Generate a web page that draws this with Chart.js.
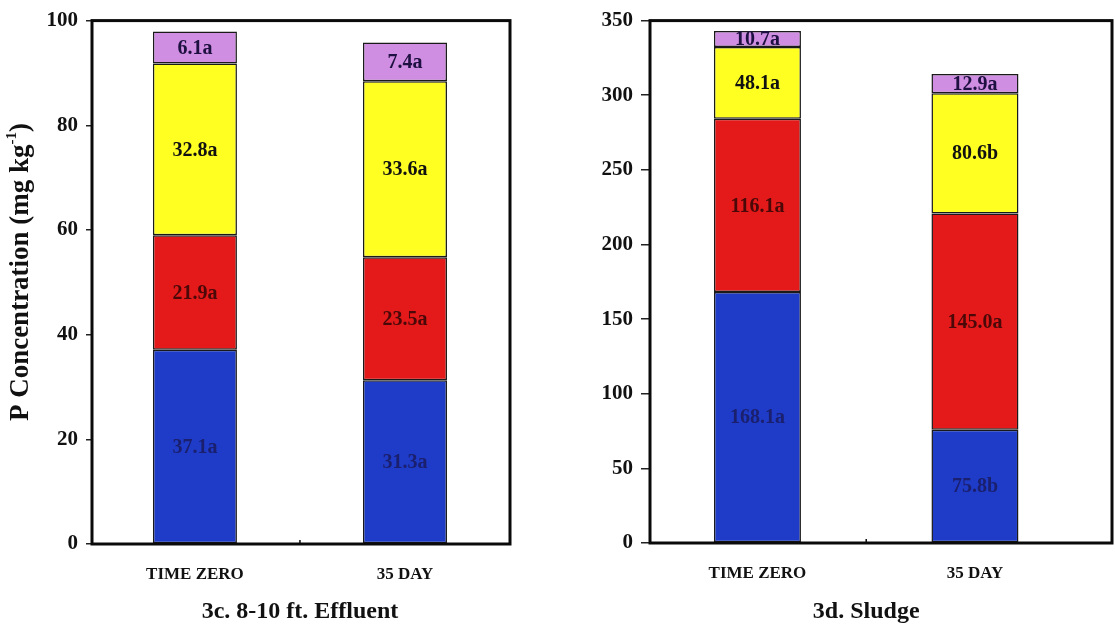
<!DOCTYPE html>
<html>
<head>
<meta charset="utf-8">
<title>P Concentration – Effluent and Sludge</title>
<script src="https://cdn.jsdelivr.net/npm/chart.js@4"></script>
<style>
  html, body { margin: 0; padding: 0; background: #ffffff; }
  #wrap { position: relative; width: 1115px; height: 626px; overflow: hidden; }
  canvas { position: absolute; top: 0; }
  #effluent { left: 0; }
  #sludge { left: 560px; }
</style>
</head>
<body>
<div id="wrap">
  <canvas id="effluent" width="560" height="626"></canvas>
  <canvas id="sludge" width="555" height="626"></canvas>
</div>
<script>
// Sampling times (x categories)
const categories = ['TIME ZERO', '35 DAY'];

// 3c. 8-10 ft. Effluent – P fractions (mg kg-1), bottom to top
const effluentPool1 = [37.1, 31.3];
const effluentPool2 = [21.9, 23.5];
const effluentPool3 = [32.8, 33.6];
const effluentPool4 = [6.1, 7.4];
const effluentLetters1 = ['a', 'a'];
const effluentLetters2 = ['a', 'a'];
const effluentLetters3 = ['a', 'a'];
const effluentLetters4 = ['a', 'a'];
const effluentTicks = [0, 20, 40, 60, 80, 100];

// 3d. Sludge – P fractions (mg kg-1), bottom to top
const sludgePool1 = [168.1, 75.8];
const sludgePool2 = [116.1, 145.0];
const sludgePool3 = [48.1, 80.6];
const sludgePool4 = [10.7, 12.9];
const sludgeLetters1 = ['a', 'b'];
const sludgeLetters2 = ['a', 'a'];
const sludgeLetters3 = ['a', 'b'];
const sludgeLetters4 = ['a', 'a'];
const sludgeTicks = [0, 50, 100, 150, 200, 250, 300, 350];

const SERIF = "'Liberation Serif', 'Times New Roman', 'DejaVu Serif', serif";
const fills = ['#1f3cc8', '#e41a1a', '#ffff22', '#cf8ee2'];
const labelInk = ['#1a1f6e', '#4a0808', '#111111', '#1e1040'];

function makeDatasets(pools, letters) {
  return pools.map((vals, k) => ({
    label: 'Pool ' + (k + 1),
    data: vals.map((v, i) => ({ x: i, y: v })),
    letters: letters[k],
    backgroundColor: fills[k],
    borderColor: '#1a1a1a',
    borderWidth: 1.5,
    borderSkipped: false,
    barPercentage: 0.4,
    categoryPercentage: 1.0,
    labelColor: labelInk[k]
  }));
}

// Segment value labels, plot frame, panel caption, axis title
const panelDecor = {
  id: 'panelDecor',
  afterDatasetsDraw(chart) {
    const ctx = chart.ctx;
    ctx.save();
    ctx.font = 'bold 20px ' + SERIF;
    ctx.textAlign = 'center';
    ctx.textBaseline = 'middle';
    chart.data.datasets.forEach((ds, di) => {
      const meta = chart.getDatasetMeta(di);
      meta.data.forEach((el, i) => {
        const v = ds.data[i].y;
        ctx.fillStyle = ds.labelColor;
        ctx.fillText(v.toFixed(1) + ds.letters[i], el.x, (el.y + el.base) / 2 + 1);
      });
    });
    ctx.restore();
  },
  afterDraw(chart, args, opts) {
    const ctx = chart.ctx;
    const a = chart.chartArea;
    const xs = chart.scales.x;
    ctx.save();
    // frame around the plot area
    ctx.strokeStyle = '#0a0a0a';
    ctx.lineWidth = 3;
    ctx.strokeRect(a.left, a.top, a.right - a.left, a.bottom - a.top);
    // divider tick between the two sampling times
    const mid = xs.getPixelForValue(0.5);
    ctx.lineWidth = 1.5;
    ctx.beginPath();
    ctx.moveTo(mid, a.bottom);
    ctx.lineTo(mid, a.bottom - 4);
    ctx.stroke();
    // panel caption
    ctx.fillStyle = '#111';
    ctx.font = 'bold 24px ' + SERIF;
    ctx.textAlign = 'center';
    ctx.textBaseline = 'middle';
    ctx.fillText(opts.caption, mid, 612);
    // y-axis title with superscript
    if (opts.yTitle) {
      ctx.translate(opts.yTitleX, opts.yTitleY);
      ctx.rotate(-Math.PI / 2);
      const main = 'P Concentration (mg kg';
      const sup = '-1';
      const close = ')';
      ctx.textAlign = 'left';
      ctx.font = 'bold 27px ' + SERIF;
      const w1 = ctx.measureText(main).width;
      const w3 = ctx.measureText(close).width;
      ctx.font = 'bold 15px ' + SERIF;
      const w2 = ctx.measureText(sup).width;
      let x = -(w1 + w2 + w3) / 2;
      ctx.font = 'bold 27px ' + SERIF;
      ctx.fillText(main, x, 0);
      x += w1;
      ctx.font = 'bold 15px ' + SERIF;
      ctx.fillText(sup, x, -9);
      x += w2;
      ctx.font = 'bold 27px ' + SERIF;
      ctx.fillText(close, x, 0);
    }
    ctx.restore();
  }
};

function buildChart(id, cfg) {
  return new Chart(document.getElementById(id), {
    type: 'bar',
    data: { datasets: makeDatasets(cfg.pools, cfg.letters) },
    plugins: [panelDecor],
    options: {
      responsive: false,
      animation: false,
      devicePixelRatio: 1,
      layout: { padding: { left: 0, top: 20, right: cfg.padRight, bottom: 0 } },
      plugins: {
        legend: { display: false },
        tooltip: { enabled: false },
        panelDecor: { caption: cfg.caption, yTitle: cfg.yTitle, yTitleX: 21, yTitleY: 272 }
      },
      scales: {
        x: {
          type: 'linear',
          stacked: true,
          offset: false,
          min: cfg.xMin,
          max: cfg.xMax,
          afterBuildTicks(scale) {
            scale.ticks = categories.map((_, i) => ({ value: i }));
          },
          afterFit(scale) { scale.height = cfg.xHeight; },
          grid: { display: false, offset: false },
          border: { display: false },
          ticks: {
            padding: 12,
            maxRotation: 0,
            autoSkip: false,
            color: '#111',
            font: { family: SERIF, size: 17, weight: 'bold' },
            callback: (v) => categories[v]
          }
        },
        y: {
          stacked: true,
          min: 0,
          max: cfg.yTicks[cfg.yTicks.length - 1],
          afterBuildTicks(scale) {
            scale.ticks = cfg.yTicks.map(v => ({ value: v }));
          },
          afterFit(scale) { scale.width = cfg.yWidth; },
          grid: {
            drawOnChartArea: false,
            drawTicks: true,
            tickLength: cfg.yTickLen,
            color: '#222',
            lineWidth: 1.5
          },
          border: { display: false },
          ticks: {
            padding: 8,
            color: '#111',
            font: { family: SERIF, size: 21, weight: 'bold' }
          }
        }
      }
    }
  });
}

buildChart('effluent', {
  pools: [effluentPool1, effluentPool2, effluentPool3, effluentPool4],
  letters: [effluentLetters1, effluentLetters2, effluentLetters3, effluentLetters4],
  yTicks: effluentTicks,
  caption: '3c. 8-10 ft. Effluent',
  yTitle: true,
  xMin: -0.49, xMax: 1.5,
  yWidth: 92, yTickLen: 6, padRight: 50, xHeight: 82
});

buildChart('sludge', {
  pools: [sludgePool1, sludgePool2, sludgePool3, sludgePool4],
  letters: [sludgeLetters1, sludgeLetters2, sludgeLetters3, sludgeLetters4],
  yTicks: sludgeTicks,
  caption: '3d. Sludge',
  yTitle: false,
  xMin: -0.494, xMax: 1.63,
  yWidth: 90, yTickLen: 9, padRight: 3, xHeight: 83
});
</script>
</body>
</html>
